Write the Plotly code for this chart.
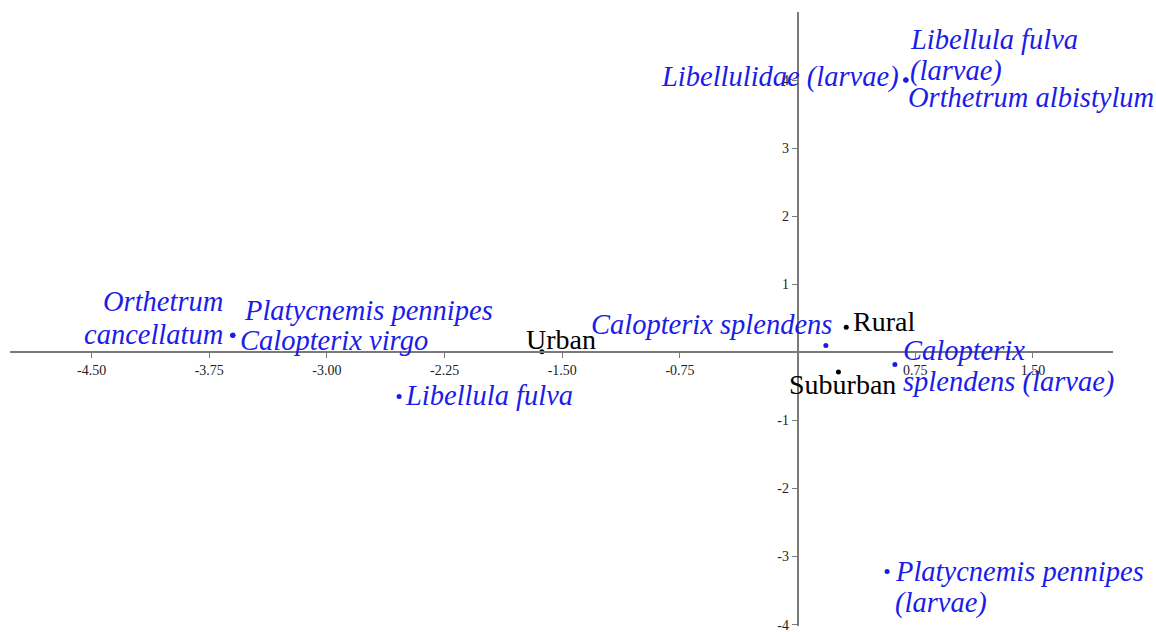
import plotly.graph_objects as go

# Site scores (black)
sites = ["Urban", "Rural", "Suburban"]
site_x = [-1.63, 0.31, 0.26]
site_y = [0.01, 0.37, -0.29]

# Species scores (blue); several species share a position
species = [
    "Orthetrum cancellatum",
    "Platycnemis pennipes",
    "Calopterix virgo",
    "Libellula fulva",
    "Calopterix splendens",
    "Calopterix splendens (larvae)",
    "Libellulidae (larvae)",
    "Libellula fulva (larvae)",
    "Orthetrum albistylum",
    "Platycnemis pennipes (larvae)",
]
species_x = [-3.60, -3.60, -3.60, -2.54, 0.18, 0.62, 0.69, 0.69, 0.69, 0.57]
species_y = [0.25, 0.25, 0.25, -0.65, 0.10, -0.18, 4.00, 4.00, 4.00, -3.22]

# Axis ticks
x_ticks = [-4.5, -3.75, -3.0, -2.25, -1.5, -0.75, 0.75, 1.5]
x_tick_text = ["-4.50", "-3.75", "-3.00", "-2.25", "-1.50", "-0.75", "0.75", "1.50"]
y_ticks = [-4, -3, -2, -1, 1, 2, 3, 4]
y_tick_text = ["-4", "-3", "-2", "-1", "1", "2", "3", "4"]

X_RANGE = [-5.02, 2.01]
Y_RANGE = [-4.02, 5.0]

BLUE = "#1c1ce8"
SERIF = "Liberation Serif, Times New Roman, serif"

# Label placement: lines, anchor, x offset, y offsets (px) of each line centre
species_label_style = {
    "Orthetrum cancellatum": (["Orthetrum", "cancellatum"], "right", -8, [34, 1]),
    "Platycnemis pennipes": (["Platycnemis pennipes"], "left", 9, [25]),
    "Calopterix virgo": (["Calopterix virgo"], "left", 5, [-5]),
    "Libellula fulva": (["Libellula fulva"], "left", 4, [1]),
    "Calopterix splendens": (["Calopterix splendens"], "right", 8, [21]),
    "Calopterix splendens (larvae)": (["Calopterix", "splendens (larvae)"], "left", 6, [14, -17]),
    "Libellulidae (larvae)": (["Libellulidae (larvae)"], "right", -5, [3]),
    "Libellula fulva (larvae)": (["Libellula fulva", "(larvae)"], "left", 2, [41, 9]),
    "Orthetrum albistylum": (["Orthetrum albistylum"], "left", 0, [-17]),
    "Platycnemis pennipes (larvae)": (["Platycnemis pennipes", "(larvae)"], "left", 6, [0, -31]),
}
site_label_style = {
    "Urban": ("center", 19, 12),
    "Rural": ("left", 5, 6),
    "Suburban": ("center", 4, -12),
}

fig = go.Figure()

fig.add_trace(go.Scatter(
    x=species_x, y=species_y, mode="markers",
    marker=dict(color=BLUE, size=5),
    hovertext=species, hoverinfo="text", showlegend=False,
))
fig.add_trace(go.Scatter(
    x=site_x, y=site_y, mode="markers",
    marker=dict(color="black", size=5),
    hovertext=sites, hoverinfo="text", showlegend=False,
))

annotations = []
for name, sx, sy in zip(species, species_x, species_y):
    lines, anchor, dx, dys = species_label_style[name]
    for line, dy in zip(lines, dys):
        annotations.append(dict(
            x=sx, y=sy, xref="x", yref="y", text=line, showarrow=False,
            xanchor=anchor, yanchor="middle", xshift=dx, yshift=dy,
            font=dict(family=SERIF, size=28.5, color=BLUE, style="italic"),
        ))
for name, sx, sy in zip(sites, site_x, site_y):
    anchor, dx, dy = site_label_style[name]
    annotations.append(dict(
        x=sx, y=sy, xref="x", yref="y", text=name, showarrow=False,
        xanchor=anchor, yanchor="middle", xshift=dx, yshift=dy,
        font=dict(family=SERIF, size=28, color="black"),
    ))

# Axes cross at the origin
x_axis_pos = (0 - Y_RANGE[0]) / (Y_RANGE[1] - Y_RANGE[0])
y_axis_pos = (0 - X_RANGE[0]) / (X_RANGE[1] - X_RANGE[0])

axis_common = dict(
    showgrid=False, zeroline=False, showline=True,
    linecolor="#7a7a7a", linewidth=1.6,
    ticks="outside", ticklen=5, tickwidth=1.2, tickcolor="#7a7a7a",
    tickfont=dict(family=SERIF, size=14, color="#222222"),
    ticklabeloverflow="allow",
    automargin=False,
    anchor="free",
)

fig.update_layout(
    width=1156, height=632,
    margin=dict(l=10, r=43, t=12, b=6, autoexpand=False),
    paper_bgcolor="white", plot_bgcolor="white",
    xaxis=dict(range=X_RANGE, tickvals=x_ticks, ticktext=x_tick_text,
               position=x_axis_pos, **axis_common),
    yaxis=dict(range=Y_RANGE, tickvals=y_ticks, ticktext=y_tick_text,
               position=y_axis_pos, **axis_common),
    annotations=annotations,
    showlegend=False,
)

fig.write_html("out.html")
